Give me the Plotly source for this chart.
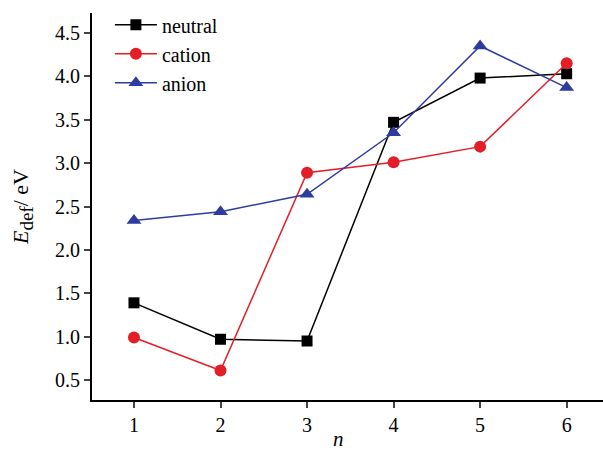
import plotly.graph_objects as go

n = [1, 2, 3, 4, 5, 6]
neutral = [1.39, 0.97, 0.95, 3.47, 3.98, 4.03]
cation = [0.99, 0.61, 2.89, 3.01, 3.19, 4.15]
anion = [2.34, 2.44, 2.64, 3.35, 4.35, 3.87]
y_ticks = [0.5, 1.0, 1.5, 2.0, 2.5, 3.0, 3.5, 4.0, 4.5]

font = "Times New Roman, serif"

fig = go.Figure()
fig.add_trace(go.Scatter(x=n, y=neutral, name="neutral", mode="lines+markers",
                         line=dict(color="black", width=1.5),
                         marker=dict(symbol="square", size=11, color="black")))
fig.add_trace(go.Scatter(x=n, y=cation, name="cation", mode="lines+markers",
                         line=dict(color="#e41e26", width=1.5),
                         marker=dict(symbol="circle", size=12, color="#e41e26")))
fig.add_trace(go.Scatter(x=n, y=anion, name="anion", mode="lines+markers",
                         line=dict(color="#2e3ca0", width=1.5),
                         marker=dict(symbol="triangle-up", size=13, color="#2e3ca0")))

fig.add_annotation(x=3.36, y=-0.064, xref="x", yref="paper", text="<i>n</i>",
                   showarrow=False, xanchor="center", yanchor="top",
                   font=dict(family=font, size=21, color="black"))

fig.update_layout(
    width=603, height=450,
    margin=dict(l=92, r=0, t=13, b=50),
    plot_bgcolor="white", paper_bgcolor="white",
    font=dict(family=font, size=20, color="black"),
    showlegend=True,
    legend=dict(x=0.035, y=1.02, xanchor="left", yanchor="top",
                bgcolor="rgba(0,0,0,0)",
                font=dict(family=font, size=20, color="black"),
                itemwidth=42, tracegroupgap=0),
    xaxis=dict(range=[0.515, 6.42], tickvals=n, ticks="outside", ticklen=6, tickwidth=2,
               showline=True, linewidth=2, linecolor="black", showgrid=False, zeroline=False,
               tickfont=dict(family=font, size=20, color="black")),
    yaxis=dict(range=[0.27, 4.73], tickvals=y_ticks, ticktext=[f"{v:.1f}" for v in y_ticks],
               ticks="outside", ticklen=6, tickwidth=2,
               showline=True, linewidth=2, linecolor="black", showgrid=False, zeroline=False,
               tickfont=dict(family=font, size=20, color="black"),
               title=dict(text="<i>E</i><sub><span style='font-size:19px'>def</span></sub>/ eV",
                          font=dict(family=font, size=22, color="black"), standoff=20)),
)

fig.write_html("out.html")
